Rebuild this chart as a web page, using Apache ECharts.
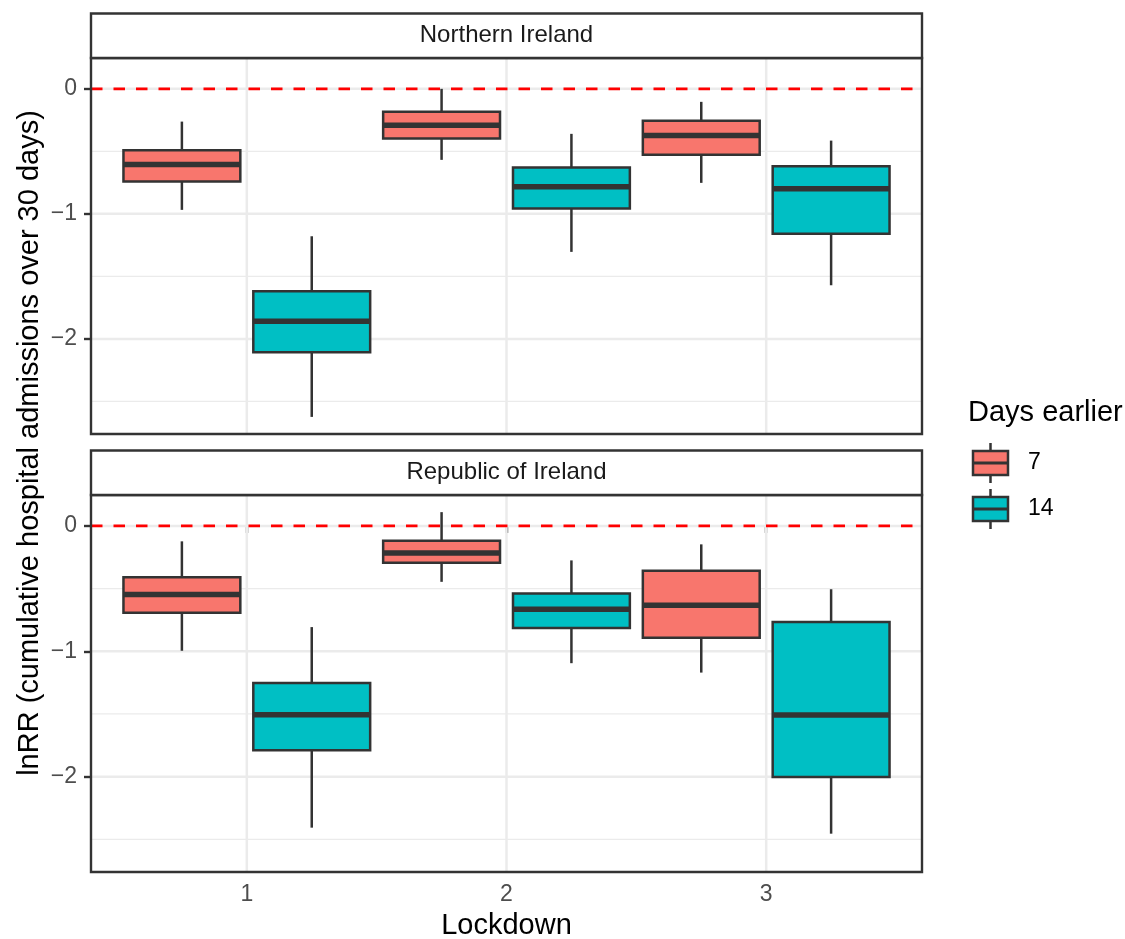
<!DOCTYPE html>
<html>
<head>
<meta charset="utf-8">
<script src="https://cdn.jsdelivr.net/npm/echarts@6/dist/echarts.min.js"></script>
<style>
html,body{margin:0;padding:0;background:#fff;}
#chart{width:1125px;height:939px;}
</style>
</head>
<body>
<div id="chart"></div>
<script>
// ---------------- data ----------------
const lockdowns = [1, 2, 3];
const groups = ['7', '14'];
const regions = ['Northern Ireland', 'Republic of Ireland'];
// each entry: [lower whisker, Q1, median, Q3, upper whisker] for lockdown 1, 2, 3
const ni7   = [[-0.968, -0.742, -0.606, -0.491, -0.262],
               [-0.568, -0.398, -0.291, -0.184,  0.000],
               [-0.752, -0.528, -0.374, -0.256, -0.104]];
const ni14  = [[-2.624, -2.107, -1.859, -1.619, -1.179],
               [-1.304, -0.958, -0.784, -0.630, -0.360],
               [-1.571, -1.160, -0.800, -0.619, -0.414]];
const roi7  = [[-0.996, -0.692, -0.547, -0.409, -0.123],
               [-0.446, -0.294, -0.216, -0.118,  0.110],
               [-1.170, -0.892, -0.633, -0.358, -0.147]];
const roi14 = [[-2.407, -1.790, -1.507, -1.253, -0.807],
               [-1.095, -0.815, -0.665, -0.539, -0.275],
               [-2.455, -2.003, -1.509, -0.767, -0.505]];
const xTickValues = [1, 2, 3];
const yTickValues = [-2, -1, 0];
const yMinorValues = [-2.5, -1.5, -0.5];
const refLine = [0];
const xTitle = 'Lockdown';
const yTitle = 'lnRR (cumulative hospital admissions over 30 days)';
const legendTitle = 'Days earlier';

// ---------------- styling / layout ----------------
const colors = ['#F8766D', '#00BFC4'];
const FONT = '"Liberation Sans", Arial, Helvetica, sans-serif';
const DARK = '#333333';
const GRIDC = '#EBEBEB';
const X_MIN = 0.4, X_MAX = 3.6;
const DODGE = [-0.25, 0.25];
const BOX_W = 0.45;
const regionData = [[ni7, ni14], [roi7, roi14]];
const allVals = [ni7, ni14, roi7, roi14].flat(2);
const vLo = Math.min(...allVals), vHi = Math.max(...allVals);
const pad = (vHi - vLo) * 0.05;
const Y_MIN = vLo - pad, Y_MAX = vHi + pad;

const PL = 91, PW = 831;
const grids = [
  {left: PL, top: 58, width: PW, height: 376},
  {left: PL, top: 495, width: PW, height: 377}
];
const STRIP_H = 44.5;
const LW = 2.5;

const chart = echarts.init(document.getElementById('chart'), null, {renderer: 'canvas'});

function hLineSeries(gi, values, width, z, extraStyle) {
  return {
    type: 'custom', xAxisIndex: gi, yAxisIndex: gi, z: z, silent: true,
    data: values.map(v => [v]),
    renderItem: function (params, api) {
      const v = api.value(0);
      const a = api.coord([X_MIN, v]);
      const b = api.coord([X_MAX, v]);
      return {type: 'line', shape: {x1: a[0], y1: a[1], x2: b[0], y2: b[1]},
        style: Object.assign({stroke: GRIDC, lineWidth: width}, extraStyle || {})};
    }
  };
}
function vLineSeries(gi, values, width, z) {
  return {
    type: 'custom', xAxisIndex: gi, yAxisIndex: gi, z: z, silent: true,
    data: values.map(v => [v]),
    renderItem: function (params, api) {
      const v = api.value(0);
      const a = api.coord([v, Y_MAX]);
      const b = api.coord([v, Y_MIN]);
      return {type: 'line', shape: {x1: a[0], y1: a[1], x2: b[0], y2: b[1]},
        style: {stroke: GRIDC, lineWidth: width}};
    }
  };
}
function boxSeries(gi, k) {
  const vals = regionData[gi][k];
  return {
    type: 'custom', name: groups[k], xAxisIndex: gi, yAxisIndex: gi, z: 3,
    encode: {x: 0, y: [1, 2, 3, 4, 5]},
    data: lockdowns.map((l, i) => [l + DODGE[k]].concat(vals[i])),
    renderItem: function (params, api) {
      const x = api.value(0);
      const lo = api.value(1), q1 = api.value(2), md = api.value(3), q3 = api.value(4), hi = api.value(5);
      const tl = api.coord([x - BOX_W / 2, q3]);
      const br = api.coord([x + BOX_W / 2, q1]);
      const pHi = api.coord([x, hi]), pLo = api.coord([x, lo]);
      const pQ3 = api.coord([x, q3]), pQ1 = api.coord([x, q1]), pMd = api.coord([x, md]);
      const ls = {stroke: DARK, lineWidth: LW};
      return {type: 'group', children: [
        {type: 'line', shape: {x1: pHi[0], y1: pHi[1], x2: pQ3[0], y2: pQ3[1]}, style: ls},
        {type: 'line', shape: {x1: pQ1[0], y1: pQ1[1], x2: pLo[0], y2: pLo[1]}, style: ls},
        {type: 'rect', shape: {x: tl[0], y: tl[1], width: br[0] - tl[0], height: br[1] - tl[1]},
          style: {fill: colors[k], stroke: DARK, lineWidth: LW}},
        {type: 'line', shape: {x1: tl[0], y1: pMd[1], x2: br[0], y2: pMd[1]},
          style: {stroke: DARK, lineWidth: 5.5}}
      ]};
    }
  };
}
function borderSeries(gi) {
  return {
    type: 'custom', xAxisIndex: gi, yAxisIndex: gi, z: 6, silent: true,
    data: [[X_MIN]],
    renderItem: function (params, api) {
      const a = api.coord([X_MIN, Y_MAX]);
      const b = api.coord([X_MAX, Y_MIN]);
      return {type: 'rect', shape: {x: a[0], y: a[1], width: b[0] - a[0], height: b[1] - a[1]},
        style: {fill: 'none', stroke: DARK, lineWidth: 2.4}};
    }
  };
}

const series = [];
grids.forEach((g, gi) => {
  series.push(hLineSeries(gi, yMinorValues, 1.3, 1));
  series.push(hLineSeries(gi, yTickValues, 2.5, 1));
  series.push(vLineSeries(gi, xTickValues, 2.5, 1));
  series.push(boxSeries(gi, 0));
  series.push(boxSeries(gi, 1));
  series.push(hLineSeries(gi, refLine, 2.7, 4, {stroke: '#FF0000', lineDash: [11.5, 11]}));
  series.push(borderSeries(gi));
});

const graphic = [];
// strips
grids.forEach((g, gi) => {
  graphic.push({type: 'rect', silent: true, z: 10,
    shape: {x: g.left, y: g.top - STRIP_H, width: g.width, height: STRIP_H},
    style: {fill: '#FFFFFF', stroke: DARK, lineWidth: 2.4}});
  graphic.push({type: 'text', silent: true, z: 11,
    x: g.left + g.width / 2, y: g.top - STRIP_H / 2,
    style: {text: regions[gi], font: '24px ' + FONT, fill: '#1A1A1A', align: 'center', verticalAlign: 'middle'}});
});
// axis titles
graphic.push({type: 'text', silent: true, x: PL + PW / 2, y: 926,
  style: {text: xTitle, font: '29px ' + FONT, fill: '#000', align: 'center', verticalAlign: 'middle'}});
graphic.push({type: 'text', silent: true, x: 30, y: 443, rotation: Math.PI / 2,
  style: {text: yTitle, font: '29px ' + FONT, fill: '#000', align: 'center', verticalAlign: 'middle'}});
// legend
graphic.push({type: 'text', silent: true, x: 968, y: 413,
  style: {text: legendTitle, font: '29px ' + FONT, fill: '#000', align: 'left', verticalAlign: 'middle'}});
const keyCenters = [463, 509];
groups.forEach((gname, k) => {
  const cy = keyCenters[k];
  const x0 = 973, x1 = 1008, cx = (x0 + x1) / 2;
  graphic.push({type: 'line', silent: true, shape: {x1: cx, y1: cy - 20, x2: cx, y2: cy + 20},
    style: {stroke: DARK, lineWidth: LW}});
  graphic.push({type: 'rect', silent: true, shape: {x: x0, y: cy - 12, width: x1 - x0, height: 24},
    style: {fill: colors[k], stroke: DARK, lineWidth: LW}});
  graphic.push({type: 'line', silent: true, shape: {x1: x0, y1: cy, x2: x1, y2: cy},
    style: {stroke: DARK, lineWidth: 3}});
  graphic.push({type: 'text', silent: true, x: 1028, y: cy,
    style: {text: gname, font: '23px ' + FONT, fill: '#000', align: 'left', verticalAlign: 'middle'}});
});

const minusFmt = v => String(v).replace('-', '\u2212');

chart.setOption({
  animation: false,
  backgroundColor: '#FFFFFF',
  grid: grids.map(g => Object.assign({show: false}, g)),
  xAxis: grids.map((g, gi) => ({
    type: 'value', gridIndex: gi, min: X_MIN, max: X_MAX,
    axisLine: {show: false},
    splitLine: {show: false},
    axisTick: {show: gi === 1, customValues: xTickValues, length: 7, lineStyle: {color: DARK, width: 2.4}},
    axisLabel: {show: gi === 1, customValues: xTickValues, margin: 11, fontSize: 23,
      color: '#4D4D4D', fontFamily: FONT, formatter: minusFmt}
  })),
  yAxis: grids.map((g, gi) => ({
    type: 'value', gridIndex: gi, min: Y_MIN, max: Y_MAX,
    axisLine: {show: false},
    splitLine: {show: false},
    axisTick: {show: true, customValues: yTickValues, length: 7, lineStyle: {color: DARK, width: 2.4}},
    axisLabel: {show: true, customValues: yTickValues, margin: 14, fontSize: 23,
      color: '#4D4D4D', fontFamily: FONT, formatter: minusFmt}
  })),
  graphic: graphic,
  series: series
});
</script>
</body>
</html>
